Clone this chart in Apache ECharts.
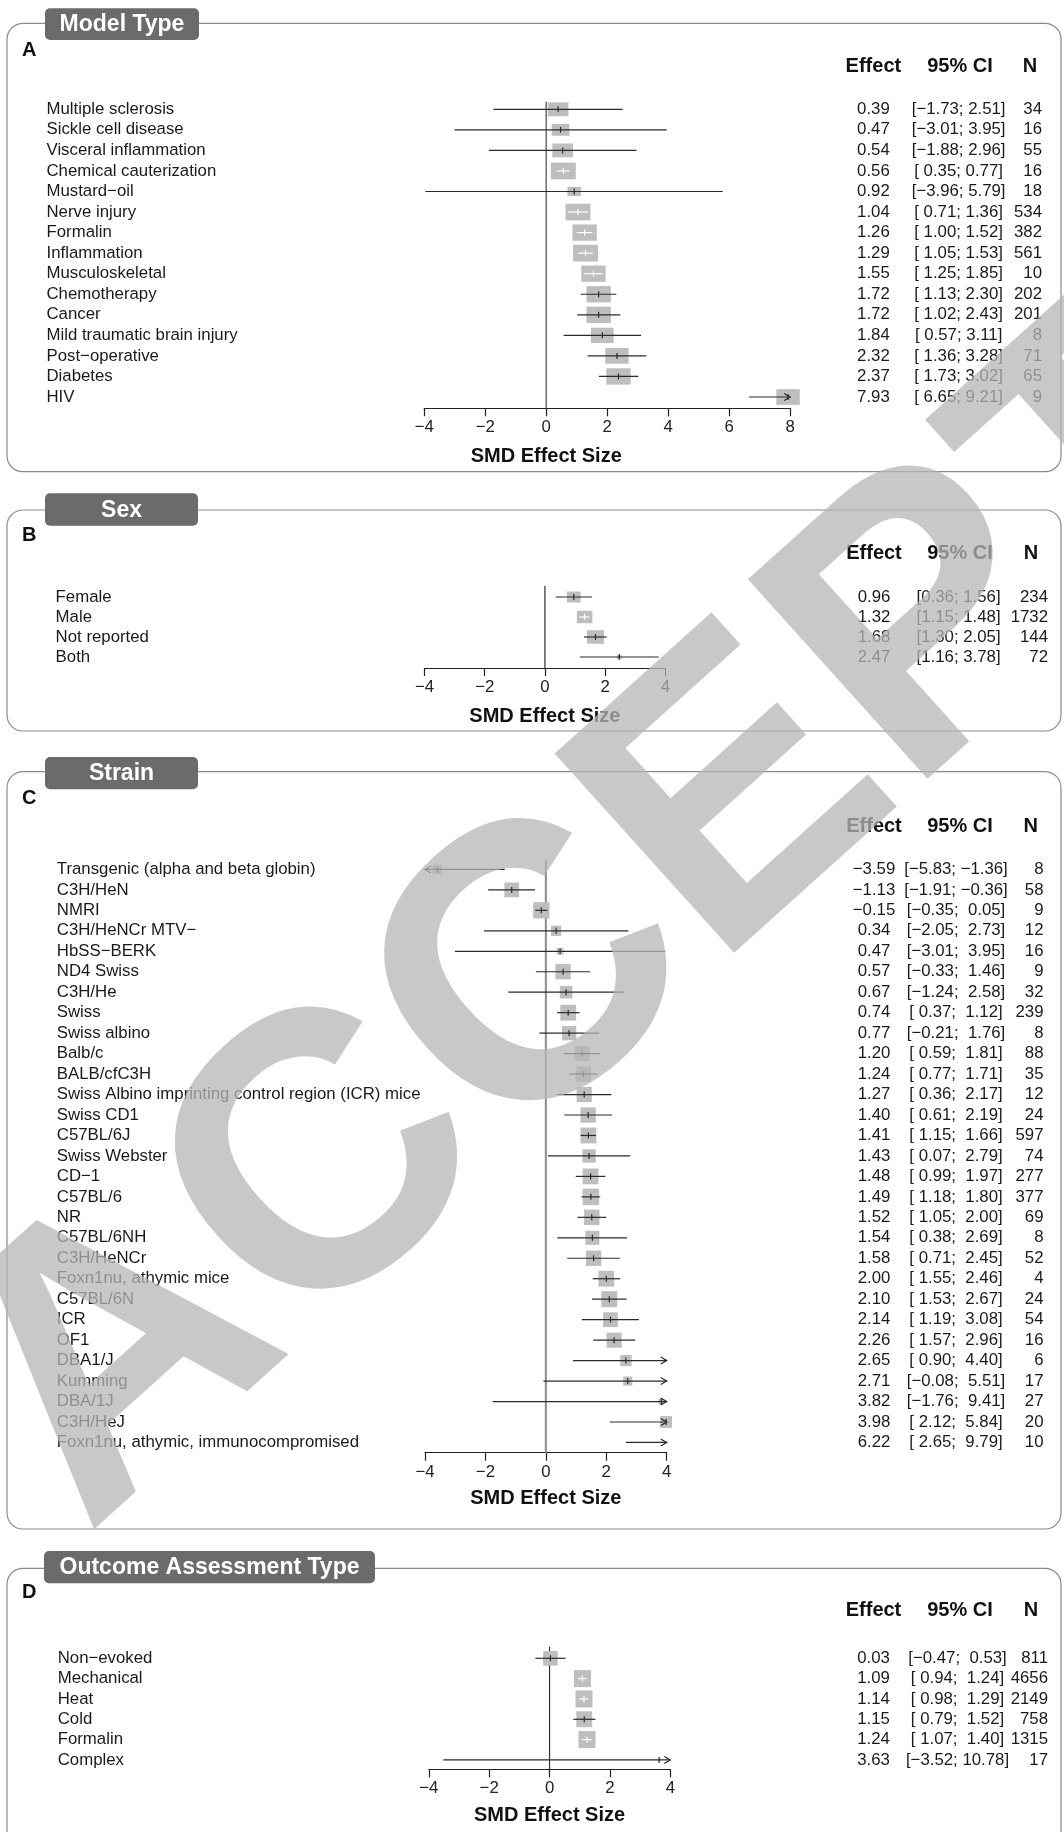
<!DOCTYPE html>
<html>
<head>
<meta charset="utf-8">
<script src="https://cdn.jsdelivr.net/npm/echarts@6/dist/echarts.min.js"></script>
<style>
  html, body { margin: 0; padding: 0; background: #ffffff; }
  #chart { width: 1064px; height: 1832px; }
</style>
</head>
<body>
<div id="chart"></div>
<script>
// ---------------- data ----------------
// A: model type
const modelLabels = ['Multiple sclerosis', 'Sickle cell disease', 'Visceral inflammation', 'Chemical cauterization',
  'Mustard\u2212oil', 'Nerve injury', 'Formalin', 'Inflammation', 'Musculoskeletal', 'Chemotherapy', 'Cancer',
  'Mild traumatic brain injury', 'Post\u2212operative', 'Diabetes', 'HIV'];
const modelEffect = [0.39, 0.47, 0.54, 0.56, 0.92, 1.04, 1.26, 1.29, 1.55, 1.72, 1.72, 1.84, 2.32, 2.37, 7.93];
const modelLower  = [-1.73, -3.01, -1.88, 0.35, -3.96, 0.71, 1.00, 1.05, 1.25, 1.13, 1.02, 0.57, 1.36, 1.73, 6.65];
const modelUpper  = [2.51, 3.95, 2.96, 0.77, 5.79, 1.36, 1.52, 1.53, 1.85, 2.30, 2.43, 3.11, 3.28, 3.02, 9.21];
const modelN      = [34, 16, 55, 16, 18, 534, 382, 561, 10, 202, 201, 8, 71, 65, 9];
const modelWeight = [5.5, 4.0, 5.5, 8.0, 2.4, 7.9, 7.6, 8.0, 7.6, 7.6, 7.6, 6.6, 7.0, 7.6, 7.0];

// B: sex
const sexLabels = ['Female', 'Male', 'Not reported', 'Both'];
const sexEffect = [0.96, 1.32, 1.68, 2.47];
const sexLower  = [0.36, 1.15, 1.30, 1.16];
const sexUpper  = [1.56, 1.48, 2.05, 3.78];
const sexN      = [234, 1732, 144, 72];
const sexWeight = [24, 31, 37, 3];

// C: strain
const strainLabels = ['Transgenic (alpha and beta globin)', 'C3H/HeN', 'NMRI', 'C3H/HeNCr MTV\u2212', 'HbSS\u2212BERK',
  'ND4 Swiss', 'C3H/He', 'Swiss', 'Swiss albino', 'Balb/c', 'BALB/cfC3H',
  'Swiss Albino imprinting control region (ICR) mice', 'Swiss CD1', 'C57BL/6J', 'Swiss Webster', 'CD\u22121',
  'C57BL/6', 'NR', 'C57BL/6NH', 'C3H/HeNCr', 'Foxn1nu, athymic mice', 'C57BL/6N', 'ICR', 'OF1', 'DBA1/J',
  'Kumming', 'DBA/1J', 'C3H/HeJ', 'Foxn1nu, athymic, immunocompromised'];
const strainEffect = [-3.59, -1.13, -0.15, 0.34, 0.47, 0.57, 0.67, 0.74, 0.77, 1.20, 1.24, 1.27, 1.40, 1.41, 1.43,
  1.48, 1.49, 1.52, 1.54, 1.58, 2.00, 2.10, 2.14, 2.26, 2.65, 2.71, 3.82, 3.98, 6.22];
const strainLower = [-5.83, -1.91, -0.35, -2.05, -3.01, -0.33, -1.24, 0.37, -0.21, 0.59, 0.77, 0.36, 0.61, 1.15, 0.07,
  0.99, 1.18, 1.05, 0.38, 0.71, 1.55, 1.53, 1.19, 1.57, 0.90, -0.08, -1.76, 2.12, 2.65];
const strainUpper = [-1.36, -0.36, 0.05, 2.73, 3.95, 1.46, 2.58, 1.12, 1.76, 1.81, 1.71, 2.17, 2.19, 1.66, 2.79,
  1.97, 1.80, 2.00, 2.69, 2.45, 2.46, 2.67, 3.08, 2.96, 4.40, 5.51, 9.41, 5.84, 9.79];
const strainN = [8, 58, 9, 12, 16, 9, 32, 239, 8, 88, 35, 12, 24, 597, 74, 277, 377, 69, 8, 52, 4, 24, 54, 16, 6, 17, 27, 20, 10];
const strainWeight = [1.6, 3.9, 4.8, 1.9, 0.8, 4.2, 2.8, 4.5, 3.7, 4.2, 4.3, 4.1, 4.2, 4.5, 3.2, 4.5, 4.9, 4.3, 3.5, 4.2,
  4.5, 4.6, 3.9, 4.1, 2.3, 1.5, 0.5, 2.5, 1.8];

// D: outcome assessment type
const outcomeLabels = ['Non\u2212evoked', 'Mechanical', 'Heat', 'Cold', 'Formalin', 'Complex'];
const outcomeEffect = [0.03, 1.09, 1.14, 1.15, 1.24, 3.63];
const outcomeLower  = [-0.47, 0.94, 0.98, 0.79, 1.07, -3.52];
const outcomeUpper  = [0.53, 1.24, 1.29, 1.52, 1.40, 10.78];
const outcomeN      = [811, 4656, 2149, 758, 1315, 17];
const outcomeWeight = [17, 23, 23, 20, 23, 0.5];

const columnHeaders = ['Effect', '95% CI', 'N'];
const axisTitle = 'SMD Effect Size';
const watermarkText = 'ACCEPTED';

// ---------------- helpers ----------------
const FONT = '"Liberation Sans", Arial, Helvetica, sans-serif';
const MINUS = '\u2212';
const fmt = v => (v < 0 ? MINUS : '') + Math.abs(v).toFixed(2);
const padLeft = (s, len) => { while (s.length < len) s = ' ' + s; return s; };
function ciStrings(lo, hi) {
  const L = lo.map(fmt), H = hi.map(fmt);
  const lw = Math.max(...L.map(s => s.length));
  const hw = Math.max(...H.map(s => s.length));
  return L.map((l, i) => '[' + padLeft(l, lw) + '; ' + padLeft(H[i], hw) + ']');
}

// ---------------- panel layout ----------------
const panels = [
  { letter: 'A', title: 'Model Type', labels: modelLabels, eff: modelEffect, lo: modelLower, hi: modelUpper,
    n: modelN, w: modelWeight, xMax: 8,
    grid: { left: 424.2, top: 101.7, width: 366, height: 306.6 }, yMin: -0.37, yMax: 14.55,
    frame: [7, 23.3, 1054, 448.4], tab: [45, 8.3, 154, 31.7], letterY: 50, headerY: 66.7,
    labelX: 46.5, effX: 873.4, ciX: 958.6, nX: 1042, nHeadX: 1030, xlabY: 456.7,
    box: { maxW: 25, wRef: 8, aspect: 0.67 }, insideWhite: true, zero: '#555555', zeroW: 1.3 },
  { letter: 'B', title: 'Sex', labels: sexLabels, eff: sexEffect, lo: sexLower, hi: sexUpper,
    n: sexN, w: sexWeight, xMax: 4,
    grid: { left: 424.5, top: 586, width: 240.8, height: 82 }, yMin: -0.55, yMax: 3.55,
    frame: [7, 510, 1054, 221], tab: [45, 493.3, 153, 32.4], letterY: 535, headerY: 553.5,
    labelX: 55.6, effX: 874, ciX: 958.6, nX: 1048, nHeadX: 1031, xlabY: 716,
    box: { maxW: 17, wRef: 37, aspect: 0.8 }, insideWhite: true, zero: '#333333', zeroW: 1.2 },
  { letter: 'C', title: 'Strain', labels: strainLabels, eff: strainEffect, lo: strainLower, hi: strainUpper,
    n: strainN, w: strainWeight, xMax: 4,
    grid: { left: 425, top: 860, width: 241.7, height: 592.7 }, yMin: -0.46, yMax: 28.5,
    frame: [7, 771.7, 1054, 757.3], tab: [45, 757, 153, 32.3], letterY: 798.3, headerY: 826.7,
    labelX: 56.8, effX: 874, ciX: 956, nX: 1043.5, nHeadX: 1030.7, xlabY: 1498.3,
    box: { maxW: 16.5, wRef: 4.9, aspect: 1.0 }, insideWhite: false, zero: '#8c8c8c', zeroW: 2 },
  { letter: 'D', title: 'Outcome Assessment Type', labels: outcomeLabels, eff: outcomeEffect, lo: outcomeLower,
    hi: outcomeUpper, n: outcomeN, w: outcomeWeight, xMax: 4,
    grid: { left: 428.8, top: 1646.7, width: 241.5, height: 122.6 }, yMin: -0.57, yMax: 5.46,
    frame: [7, 1568.3, 1054, 290], tab: [44, 1551, 331, 32.3], letterY: 1592.3, headerY: 1610,
    labelX: 57.7, effX: 873.5, ciX: 957.5, nX: 1048, nHeadX: 1031, xlabY: 1815,
    box: { maxW: 17, wRef: 23, aspect: 1.0 }, insideWhite: true, zero: '#333333', zeroW: 1.2 }
];

const TEXT = '#1a1a1a';
const LINE = '#2b2b2b';
const BOX = '#bebebe';
const FS = 16.8;

function makeRenderer(p, ciText) {
  const xMin = -4, xMax = p.xMax;
  return function (params, api) {
    const i = api.value(1);
    const eff = api.value(0), lo = api.value(2), hi = api.value(3), n = api.value(4), w = api.value(5);
    const y = api.coord([0, i])[1];
    const xL = api.coord([xMin, i])[0];
    const xR = api.coord([xMax, i])[0];
    const loPix = api.coord([Math.max(lo, xMin), i])[0];
    const hiPix = api.coord([Math.min(hi, xMax), i])[0];
    const ex = api.coord([eff, i])[0];
    const bw = p.box.maxW * Math.sqrt(w / p.box.wRef);
    const bh = bw * p.box.aspect;
    const showBox = eff >= xMin && eff <= xMax;
    const inside = p.insideWhite && showBox && loPix >= ex - bw / 2 && hiPix <= ex + bw / 2;
    const col = inside ? '#ffffff' : LINE;
    const kids = [];

    if (params.dataIndex === 0) {
      const top = api.coord([0, p.yMin]);
      const bot = api.coord([0, p.yMax]);
      kids.push({ type: 'line', shape: { x1: top[0], y1: top[1], x2: bot[0], y2: bot[1] },
        style: { stroke: p.zero, lineWidth: p.zeroW } });
      kids.push({ type: 'text', x: top[0], y: p.xlabY,
        style: { text: axisTitle, fontFamily: FONT, fontSize: 20, fontWeight: 'bold', fill: '#111',
          align: 'center', verticalAlign: 'middle' } });
    }
    if (showBox) {
      kids.push({ type: 'rect', shape: { x: ex - bw / 2, y: y - bh / 2, width: bw, height: bh },
        style: { fill: BOX } });
    }
    kids.push({ type: 'line', shape: { x1: loPix, y1: y, x2: hiPix, y2: y },
      style: { stroke: col, lineWidth: 1.2 } });
    if (showBox) {
      kids.push({ type: 'line', shape: { x1: ex, y1: y - 3, x2: ex, y2: y + 3 },
        style: { stroke: col, lineWidth: 1.2 } });
    }
    if (lo < xMin) {
      kids.push({ type: 'polyline', shape: { points: [[xL + 6, y - 3.5], [xL, y], [xL + 6, y + 3.5]] },
        style: { stroke: LINE, lineWidth: 1.2, fill: 'none' } });
    }
    if (hi > xMax) {
      kids.push({ type: 'polyline', shape: { points: [[xR - 6, y - 3.5], [xR, y], [xR - 6, y + 3.5]] },
        style: { stroke: LINE, lineWidth: 1.2, fill: 'none' } });
    }
    const txt = (t, x, align) => ({ type: 'text', x: x, y: y,
      style: { text: t, fontFamily: FONT, fontSize: FS, fill: TEXT, align: align, verticalAlign: 'middle' } });
    kids.push(txt(p.labels[i], p.labelX, 'left'));
    kids.push(txt(fmt(eff), p.effX, 'center'));
    kids.push(txt(ciText[i], p.ciX, 'center'));
    kids.push(txt(String(n), p.nX, 'right'));
    return { type: 'group', children: kids };
  };
}

const grids = [], xAxes = [], yAxes = [], series = [], graphics = [];

panels.forEach((p, k) => {
  grids.push(Object.assign({ containLabel: false, outerBoundsMode: 'none' }, p.grid));
  xAxes.push({
    gridIndex: k, type: 'value', min: -4, max: p.xMax, interval: 2,
    axisLine: { show: true, onZero: false, lineStyle: { color: '#222', width: 1.2 } },
    axisTick: { show: true, length: 8, lineStyle: { color: '#222', width: 1.2 } },
    axisLabel: { margin: 11, fontSize: FS, color: '#222', fontFamily: FONT,
      formatter: v => (v < 0 ? MINUS + Math.abs(v) : String(v)) },
    splitLine: { show: false }
  });
  yAxes.push({ gridIndex: k, type: 'value', inverse: true, min: p.yMin, max: p.yMax, show: false });
  const ci = ciStrings(p.lo, p.hi);
  series.push({
    type: 'custom', xAxisIndex: k, yAxisIndex: k, clip: false,
    encode: { x: 0, y: 1 },
    data: p.eff.map((e, i) => [e, i, p.lo[i], p.hi[i], p.n[i], p.w[i]]),
    renderItem: makeRenderer(p, ci),
    silent: true
  });

  // frame, tab, panel letter, column headers
  const [fx, fy, fw, fh] = p.frame;
  graphics.push({ type: 'rect', z: 0, shape: { x: fx, y: fy, width: fw, height: fh, r: 16 },
    style: { fill: 'none', stroke: '#8a8a8a', lineWidth: 1.2 } });
  const [tx, ty, tw, th] = p.tab;
  graphics.push({ type: 'rect', z: 1, shape: { x: tx, y: ty, width: tw, height: th, r: 5 },
    style: { fill: '#6b6b6b' } });
  graphics.push({ type: 'text', z: 2, x: tx + tw / 2, y: ty + th / 2 + 1,
    style: { text: p.title, fontFamily: FONT, fontSize: 23, fontWeight: 'bold', fill: '#ffffff',
      align: 'center', verticalAlign: 'middle' } });
  graphics.push({ type: 'text', z: 2, x: 22, y: p.letterY,
    style: { text: p.letter, fontFamily: FONT, fontSize: 20, fontWeight: 'bold', fill: '#111',
      align: 'left', verticalAlign: 'middle' } });
  [p.effX, 960, p.nHeadX].forEach((hx, j) => {
    graphics.push({ type: 'text', z: 2, x: hx, y: p.headerY,
      style: { text: columnHeaders[j], fontFamily: FONT, fontSize: 20, fontWeight: 'bold', fill: '#111',
        align: 'center', verticalAlign: 'middle' } });
  });
});

// diagonal stamp laid over the whole figure
graphics.push({ type: 'text', z: 100, x: 812, y: 738, rotation: 42 * Math.PI / 180,
  style: { text: watermarkText, fontFamily: FONT, fontSize: 390, fontWeight: 'bold',
    fill: 'rgba(181,181,181,0.75)', align: 'center', verticalAlign: 'middle' } });

const chart = echarts.init(document.getElementById('chart'), null, { renderer: 'canvas' });
chart.setOption({
  animation: false,
  backgroundColor: '#ffffff',
  grid: grids,
  xAxis: xAxes,
  yAxis: yAxes,
  series: series,
  graphic: graphics
});
</script>
</body>
</html>
